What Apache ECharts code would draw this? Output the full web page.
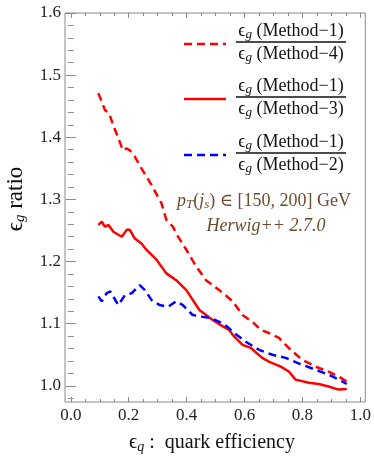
<!DOCTYPE html>
<html><head><meta charset="utf-8">
<script src="https://cdn.jsdelivr.net/npm/echarts@6/dist/echarts.min.js"></script>
<style>html,body{margin:0;padding:0;background:#fff}#c{width:374px;height:461px}</style>
</head><body><div id="c"></div>
<script>
// Method-1 / Method-4 (red dashed)
var m4X = [0.095,0.118,0.133,0.146,0.163,0.180,0.193,0.204,0.221,0.244,0.279,0.313,0.330,0.353,0.364,0.399,0.433,0.467,0.513,0.559,0.593,0.627,0.656,0.684,0.719,0.759,0.799,0.845,0.890,0.925,0.953];
var m4Y = [1.471,1.444,1.438,1.420,1.400,1.379,1.382,1.379,1.369,1.350,1.323,1.294,1.267,1.256,1.245,1.219,1.192,1.170,1.154,1.136,1.114,1.103,1.090,1.085,1.077,1.058,1.042,1.031,1.023,1.015,1.007];
// Method-1 / Method-3 (red solid)
var m3X = [0.095,0.107,0.118,0.130,0.147,0.176,0.193,0.204,0.221,0.244,0.261,0.296,0.330,0.364,0.399,0.444,0.490,0.513,0.547,0.559,0.593,0.622,0.661,0.684,0.725,0.753,0.776,0.822,0.856,0.890,0.925,0.953];
var m3Y = [1.259,1.264,1.256,1.259,1.248,1.240,1.251,1.251,1.237,1.229,1.219,1.203,1.181,1.170,1.154,1.122,1.106,1.099,1.090,1.082,1.066,1.061,1.045,1.039,1.031,1.023,1.010,1.005,1.003,0.999,0.994,0.995];
// Method-1 / Method-2 (blue dashed)
var m2X = [0.095,0.107,0.124,0.136,0.164,0.187,0.210,0.238,0.256,0.279,0.307,0.336,0.364,0.387,0.421,0.456,0.484,0.513,0.541,0.559,0.604,0.650,0.696,0.742,0.787,0.845,0.890,0.925,0.953];
var m2Y = [1.144,1.136,1.149,1.152,1.130,1.146,1.149,1.162,1.154,1.138,1.130,1.127,1.136,1.130,1.114,1.111,1.109,1.103,1.095,1.087,1.071,1.058,1.050,1.045,1.036,1.026,1.018,1.010,1.003];

var xMajor = [0, 0.2, 0.4, 0.6, 0.8, 1.0];
var xMinor = [0.05,0.1,0.15,0.25,0.3,0.35,0.45,0.5,0.55,0.65,0.7,0.75,0.85,0.9,0.95];
var yMajor = [1.0, 1.1, 1.2, 1.3, 1.4, 1.5, 1.6];
var yMinor = [0.98,1.02,1.04,1.06,1.08,1.12,1.14,1.16,1.18,1.22,1.24,1.26,1.28,1.32,1.34,1.36,1.38,1.42,1.44,1.46,1.48,1.52,1.54,1.56,1.58];

var legendNames = ['Method\u22124', 'Method\u22123', 'Method\u22122'];

function zip(a, b) { return a.map(function (v, i) { return [v, b[i]]; }); }

var FONT = '"Liberation Serif", "DejaVu Serif", serif';
var frameColor = '#8a8a8a';
var ink = '#111';

function xAx(pos, vals, len, labels) {
  return {
    type: 'value', position: pos, min: -0.02, max: 1.017,
    axisLine: { show: false },
    splitLine: { show: false },
    axisTick: { show: true, inside: true, length: len, customValues: vals, lineStyle: { color: frameColor, width: 1 } },
    axisLabel: labels ? { show: true, customValues: vals, margin: 5, fontFamily: FONT, fontSize: 17, color: '#222',
      formatter: function (v) { return v.toFixed(1); } } : { show: false }
  };
}
function yAx(pos, vals, len, labels) {
  return {
    type: 'value', position: pos, min: 0.974, max: 1.6,
    axisLine: { show: false },
    splitLine: { show: false },
    axisTick: { show: true, inside: true, length: len, customValues: vals, lineStyle: { color: frameColor, width: 1 } },
    axisLabel: labels ? { show: true, customValues: vals, margin: 4, fontFamily: FONT, fontSize: 17, color: '#222',
      formatter: function (v) { return v.toFixed(1); } } : { show: false }
  };
}

function epsRich(size, subSize, pad, col) {
  return {
    e: { fontFamily: FONT, fontSize: size, fill: col },
    sub: { fontFamily: FONT, fontSize: subSize, fontStyle: 'italic', fill: col, padding: [pad, 0, 0, 0] },
    t: { fontFamily: FONT, fontSize: size, fill: col }
  };
}

function fracText(cx, cy, name) {
  return {
    type: 'text', x: cx, y: cy,
    style: { text: '{e|\u03f5}{sub|g}{t| (' + name + ')}', rich: epsRich(18, 13, 7, ink), align: 'center', verticalAlign: 'middle' }
  };
}

var legY = [44, 99, 155];
var barY = [42, 97, 153];
var legStyles = [
  { stroke: '#ff0000', lineWidth: 2.5, lineDash: [8, 5] },
  { stroke: '#ff0000', lineWidth: 2.5 },
  { stroke: '#0000ff', lineWidth: 2.5, lineDash: [8, 5] }
];
var graphics = [];
for (var i = 0; i < 3; i++) {
  graphics.push({ type: 'line', shape: { x1: 184, y1: legY[i], x2: 226, y2: legY[i] }, style: legStyles[i] });
  graphics.push({ type: 'line', shape: { x1: 236, y1: barY[i], x2: 346, y2: barY[i] }, style: { stroke: ink, lineWidth: 1.3 } });
  graphics.push(fracText(291, barY[i] - 11, 'Method\u22121'));
  graphics.push(fracText(291, barY[i] + 12, legendNames[i]));
}
var brown = '#6b4c2c';
graphics.push({
  type: 'text', x: 264, y: 201,
  style: {
    text: '{i|p}{s|T}{r|(}{i|j}{s|s}{r|) \u2208 [150, 200] GeV}',
    align: 'center', verticalAlign: 'middle',
    rich: {
      i: { fontFamily: FONT, fontSize: 18, fontStyle: 'italic', fill: brown },
      s: { fontFamily: FONT, fontSize: 13, fontStyle: 'italic', fill: brown, padding: [7, 0, 0, 0] },
      r: { fontFamily: FONT, fontSize: 18, fill: brown }
    }
  }
});
graphics.push({
  type: 'text', x: 266, y: 226,
  style: { text: 'Herwig++ 2.7.0', align: 'center', verticalAlign: 'middle', fontFamily: FONT, fontSize: 18, fontStyle: 'italic', fill: brown }
});
// axis titles
graphics.push({
  type: 'text', x: 212, y: 443,
  style: {
    text: '{e|\u03f5}{sub|q}{t| :  quark efficiency}', align: 'center', verticalAlign: 'middle',
    rich: epsRich(20, 14, 8, ink)
  }
});
graphics.push({
  type: 'text', x: 16, y: 199, rotation: Math.PI / 2,
  style: {
    text: '{e|\u03f5}{sub|g}{t| ratio}', align: 'center', verticalAlign: 'middle',
    rich: epsRich(23, 15, 9, ink)
  }
});

var chart = echarts.init(document.getElementById('c'), null, { renderer: 'canvas' });
chart.setOption({
  animation: false,
  backgroundColor: '#fff',
  grid: { left: 65, right: 7, top: 13, bottom: 59, show: true, borderColor: frameColor, borderWidth: 1, backgroundColor: 'transparent' },
  xAxis: [xAx('bottom', xMajor, 5, true), xAx('bottom', xMinor, 3, false), xAx('top', xMajor, 5, false), xAx('top', xMinor, 3, false)],
  yAxis: [yAx('left', yMajor, 5, true), yAx('left', yMinor, 3, false), yAx('right', yMajor, 5, false), yAx('right', yMinor, 3, false)],
  series: [
    { type: 'line', data: zip(m4X, m4Y), showSymbol: false, symbol: 'none', lineStyle: { color: '#ff0000', width: 2.5, type: [8, 5] } },
    { type: 'line', data: zip(m3X, m3Y), showSymbol: false, symbol: 'none', lineStyle: { color: '#ff0000', width: 2.5 } },
    { type: 'line', data: zip(m2X, m2Y), showSymbol: false, symbol: 'none', lineStyle: { color: '#0000ff', width: 2.5, type: [8, 5] } }
  ],
  graphic: graphics
});
</script>
</body></html>
